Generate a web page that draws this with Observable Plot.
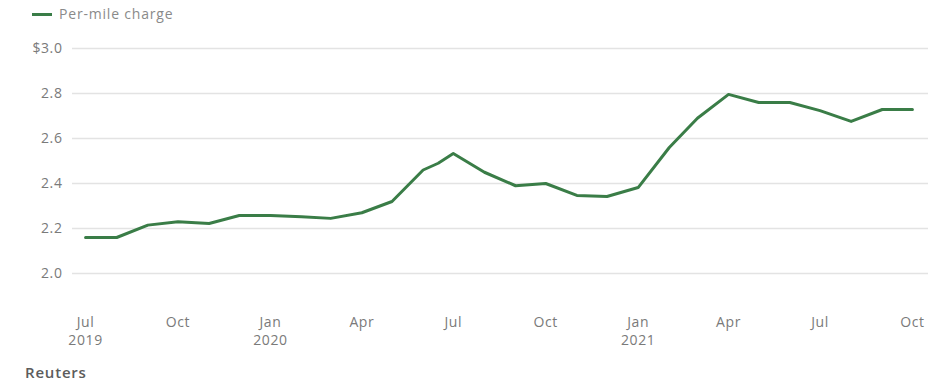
<!DOCTYPE html>
<html>
<head>
<meta charset="utf-8">
<script src="https://cdn.jsdelivr.net/npm/d3@7"></script>
<script src="https://cdn.jsdelivr.net/npm/@observablehq/plot@0.6"></script>
<style>
  body { margin: 0; background: #fff; font-family: "Open Sans", sans-serif; }
  #legend { position: relative; height: 28px; }
  #legend .sw { position: absolute; left: 32px; top: 13px; width: 20px; height: 3px; background: #3a7d47; }
  #legend .lt { position: absolute; left: 59px; top: 0; line-height: 28px; font-size: 14px; letter-spacing: 0.8px; color: #8a8a8a; }
  #chart { height: 334px; }
  #caption { height: 20px; line-height: 20px; padding-left: 25px; font-size: 15px; font-weight: 600; letter-spacing: 0.8px; color: #5c5c5c; }
</style>
</head>
<body>
<div id="legend"><span class="sw"></span><span class="lt">Per-mile charge</span></div>
<div id="chart"></div>
<div id="caption">Reuters</div>
<script>
const dates = [
  "2019-07-01","2019-08-01","2019-09-01","2019-10-01","2019-11-01","2019-12-01",
  "2020-01-01","2020-02-01","2020-03-01","2020-04-01","2020-05-01","2020-06-01","2020-06-16",
  "2020-07-01","2020-08-01","2020-09-01","2020-10-01","2020-11-01","2020-12-01",
  "2021-01-01","2021-02-01","2021-03-01","2021-04-01","2021-05-01","2021-06-01",
  "2021-07-01","2021-08-01","2021-09-01","2021-10-01"
];
const charge = [
  2.16, 2.16, 2.215, 2.23, 2.222, 2.258,
  2.258, 2.252, 2.245, 2.27, 2.32, 2.46, 2.49,
  2.533, 2.45, 2.39, 2.40, 2.347, 2.342,
  2.382, 2.56, 2.69, 2.796, 2.76, 2.76,
  2.724, 2.676, 2.729, 2.729
];
const xTicks = ["2019-07-01","2019-10-01","2020-01-01","2020-04-01","2020-07-01","2020-10-01","2021-01-01","2021-04-01","2021-07-01","2021-10-01"];
const xTickLabels = ["Jul\n2019","Oct","Jan\n2020","Apr","Jul","Oct","Jan\n2021","Apr","Jul","Oct"];
const yTicks = [2.0, 2.2, 2.4, 2.6, 2.8, 3.0];
const yTickLabels = ["2.0", "2.2", "2.4", "2.6", "2.8", "$3.0"];

const parse = d3.utcParse("%Y-%m-%d");
const data = dates.map((d, i) => ({date: parse(d), value: charge[i]}));
const xTickDates = xTicks.map(parse);
const xLabelMap = new Map(xTickDates.map((d, i) => [+d, xTickLabels[i]]));
const yLabelMap = new Map(yTicks.map((v, i) => [v, yTickLabels[i]]));

const chart = Plot.plot({
  width: 945,
  height: 334,
  marginTop: 20,
  marginBottom: 89,
  marginLeft: 72,
  marginRight: 17,
  style: { fontFamily: "Open Sans, sans-serif", fontSize: "14px", color: "#7a7a7a", background: "#fff" },
  x: { type: "utc", domain: [parse("2019-06-18"), parse("2021-10-17")] },
  y: { domain: [2.0, 3.0] },
  marks: [
    Plot.ruleY(yTicks, { stroke: "#e3e3e3", strokeWidth: 1.5 }),
    Plot.axisY({
      ticks: yTicks, tickSize: 0, tickPadding: 10,
      tickFormat: v => yLabelMap.get(v), label: null,
      fill: "#7a7a7a", fontSize: 14
    }),
    Plot.axisX({
      ticks: xTickDates, tickSize: 0, tickPadding: 41,
      tickFormat: d => xLabelMap.get(+d), label: null,
      lineHeight: 1.28, fill: "#7a7a7a", fontSize: 14
    }),
    Plot.line(data, { x: "date", y: "value", stroke: "#3a7d47", strokeWidth: 3, strokeLinejoin: "round", strokeLinecap: "round" })
  ]
});
chart.querySelectorAll("text").forEach(t => t.setAttribute("letter-spacing", "0.6"));
document.getElementById("chart").appendChild(chart);
</script>
</body>
</html>
